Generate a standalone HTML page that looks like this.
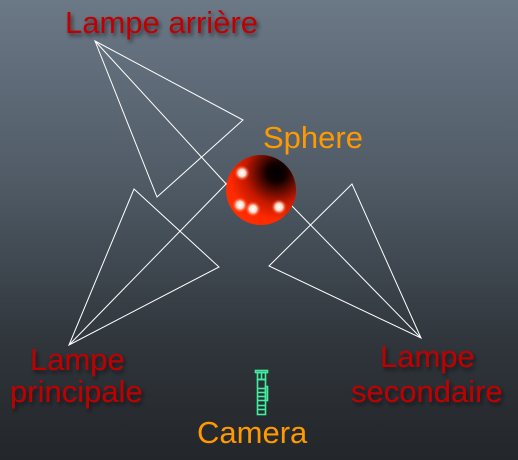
<!DOCTYPE html>
<html><head><meta charset="utf-8"><style>
html,body{margin:0;padding:0}
body{width:518px;height:460px;overflow:hidden;background:linear-gradient(#6b7886 0%,#4f5a65 40%,#2f353b 75%,#23262a 100%)}
svg{display:block}
.r{fill:#c00000;font-family:"Liberation Sans",sans-serif;font-size:31px;filter:url(#sh)}
.o{fill:#ff9900;font-family:"Liberation Sans",sans-serif;font-size:31px}
</style></head><body>
<svg width="518" height="460">
<defs>
<filter id="sh" x="-10%" y="-30%" width="130%" height="180%"><feDropShadow dx="2" dy="3" stdDeviation="2" flood-color="#000" flood-opacity="0.55"/></filter>
<radialGradient id="sg" cx="0.72" cy="0.25" r="0.9">
<stop offset="0" stop-color="#000"/><stop offset="0.15" stop-color="#100"/><stop offset="0.5" stop-color="#c41800"/><stop offset="0.75" stop-color="#ff2a00"/><stop offset="1" stop-color="#ff3000"/>
</radialGradient>
<radialGradient id="hl"><stop offset="0" stop-color="#fff"/><stop offset="0.45" stop-color="#ffe0d0"/><stop offset="1" stop-color="#ff3000" stop-opacity="0"/></radialGradient>
</defs>
<g stroke="#fff" stroke-width="1" fill="none">
<polygon points="95,41 243,120 157,197"/>
<line x1="95" y1="41" x2="228" y2="186"/>
<polygon points="69,345 134,189 219,267"/>
<line x1="69" y1="345" x2="228" y2="182"/>
<polygon points="421,338 352,184 269,266"/>
<line x1="421" y1="338" x2="290" y2="204"/>
</g>
<g>
<circle cx="261" cy="190" r="35" fill="url(#sg)"/>
<circle cx="242" cy="173" r="8" fill="url(#hl)"/>
<circle cx="240" cy="205" r="8" fill="url(#hl)"/>
<circle cx="253" cy="209" r="8" fill="url(#hl)"/>
<circle cx="279" cy="207" r="8" fill="url(#hl)"/>
</g>
<g stroke="#40f0a0" stroke-width="1.6" fill="none">
<rect x="255.5" y="370.5" width="12" height="2"/>
<rect x="257.5" y="372.5" width="8" height="7"/>
<line x1="261.5" y1="373" x2="261.5" y2="379"/>
<rect x="257.5" y="379.5" width="8" height="35"/>
<rect x="265.5" y="386.5" width="2" height="14"/>
<line x1="257" y1="388.5" x2="265" y2="388.5"/>
<line x1="257" y1="392.5" x2="265" y2="392.5"/>
<line x1="257" y1="396.5" x2="265" y2="396.5"/>
<line x1="257" y1="400.5" x2="265" y2="400.5"/>
<line x1="257" y1="405.5" x2="265" y2="405.5"/>
<line x1="257" y1="409.5" x2="265" y2="409.5"/>
</g>
<text class="r" x="65" y="33">Lampe arrière</text>
<text class="o" x="263" y="148">Sphere</text>
<text class="r" x="30" y="370">Lampe</text>
<text class="r" x="10" y="402">principale</text>
<text class="r" x="380" y="367">Lampe</text>
<text class="r" x="351" y="402">secondaire</text>
<text class="o" x="197" y="443">Camera</text>
</svg>
</body></html>
